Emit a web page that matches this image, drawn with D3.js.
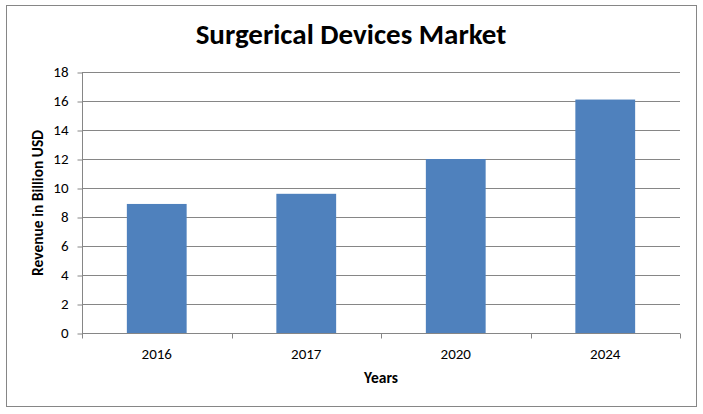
<!DOCTYPE html>
<html><head><meta charset="utf-8">
<script src="https://cdn.jsdelivr.net/npm/d3@7"></script>
<style>body{margin:0;background:#fff}svg{display:block}text{font-family:Carlito,"Open Sans",Lato,sans-serif}</style>
</head><body><svg id="c" width="703" height="414"></svg>
<script>
const categories = ["2016","2017","2020","2024"];
const revenue = [8.9, 9.6, 12.0, 16.1];
const yTicks = [0,2,4,6,8,10,12,14,16,18];
const title = "Surgerical Devices Market";
const yTitle = "Revenue in Billion USD";
const xTitle = "Years";

const svg = d3.select("#c");
const m = {l:82, r:680, t:72, b:333};
svg.append("rect").attr("x",6.5).attr("y",5.5).attr("width",690).attr("height",401)
  .attr("fill","#fff").attr("stroke","#868686").attr("stroke-width",1);

const x = d3.scaleBand().domain(categories).range([m.l,m.r]).paddingInner(0.6).paddingOuter(0.3);
const y = d3.scaleLinear().domain([0,18]).range([m.b,m.t]);

// gridlines
svg.append("g").selectAll("line").data(yTicks.filter(d=>d>0)).join("line")
  .attr("x1",m.l).attr("x2",m.r).attr("y1",d=>Math.round(y(d))+0.5).attr("y2",d=>Math.round(y(d))+0.5)
  .attr("stroke","#868686");

// bars
svg.append("g").selectAll("rect").data(revenue).join("rect")
  .attr("x",(d,i)=>x(categories[i])).attr("width",x.bandwidth())
  .attr("y",d=>y(d)).attr("height",d=>m.b-y(d)).attr("fill","#4f81bd");

// y axis
const ya = svg.append("g").attr("transform",`translate(${m.l+0.5},0)`)
  .call(d3.axisLeft(y).tickValues(yTicks).tickSize(5).tickPadding(9).tickFormat(d3.format("d")));
ya.selectAll("path,line").attr("stroke","#868686");
ya.selectAll(".tick line").attr("transform","translate(0,0.5)");
ya.selectAll("text").attr("font-size",15).attr("fill","#000").style("font-family","Carlito,'Open Sans',Lato,sans-serif");
ya.select(".domain").attr("d",`M0,${m.t}V${m.b}`);

// x axis
const xg = svg.append("g").attr("transform",`translate(0,${m.b+0.5})`);
xg.append("line").attr("x1",m.l).attr("x2",m.r).attr("stroke","#868686");
const bounds = d3.range(categories.length+1).map(i=>m.l+i*(m.r-m.l)/categories.length);
xg.selectAll("line.t").data(bounds).join("line").attr("class","t")
  .attr("x1",d=>Math.round(d)+0.5).attr("x2",d=>Math.round(d)+0.5).attr("y1",0).attr("y2",5).attr("stroke","#868686");
xg.selectAll("text").data(categories).join("text")
  .attr("x",d=>x(d)+x.bandwidth()/2).attr("y",25).attr("text-anchor","middle")
  .attr("font-size",15).text(d=>d);

// titles
svg.append("text").attr("x",351).attr("y",44).attr("text-anchor","middle")
  .attr("font-size",29).attr("font-weight","bold").text(title);
svg.append("text").attr("transform","translate(43,203) rotate(-90)").attr("text-anchor","middle")
  .attr("font-size",15.5).attr("font-weight","bold").text(yTitle);
svg.append("text").attr("x",381).attr("y",383).attr("text-anchor","middle")
  .attr("font-size",15.5).attr("font-weight","bold").text(xTitle);
</script></body></html>
